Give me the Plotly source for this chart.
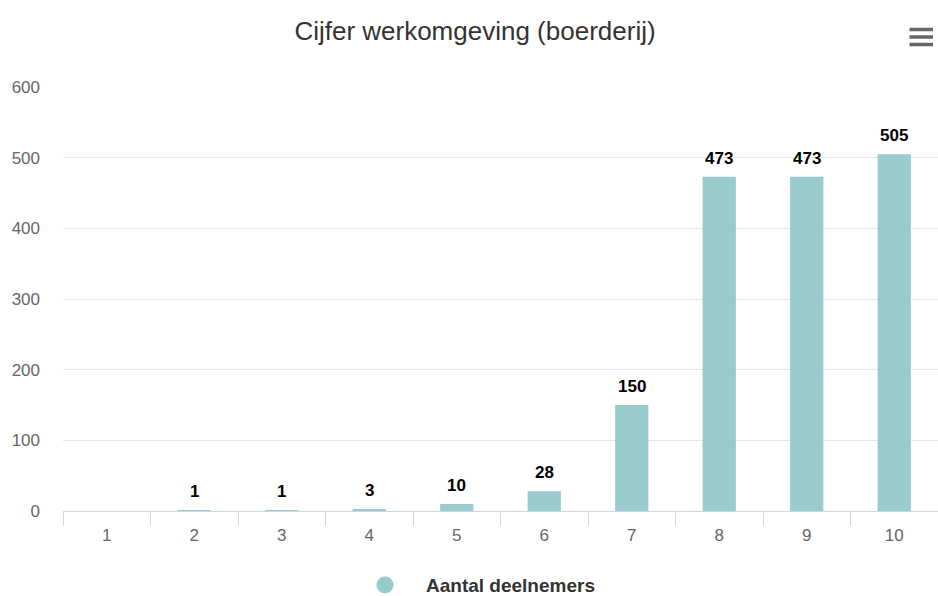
import plotly.graph_objects as go

categories = ["1", "2", "3", "4", "5", "6", "7", "8", "9", "10"]
values = [None, 1, 1, 3, 10, 28, 150, 473, 473, 505]
y_ticks = [0, 100, 200, 300, 400, 500, 600]
series_name = "Aantal deelnemers"
title_text = "Cijfer werkomgeving (boerderij)"

BAR_COLOR = "#99cbcc"
FONT = "Liberation Sans, Arial, Helvetica, sans-serif"

W, H = 938, 596
L, R, T, B = 63, 0, 87, 85

fig = go.Figure()
fig.add_trace(go.Bar(
    x=categories, y=values, name=series_name,
    marker=dict(color=BAR_COLOR, line=dict(width=0)),
    showlegend=False, hoverinfo="x+y",
))

# data labels
for i, v in enumerate(values):
    if v is None:
        continue
    fig.add_annotation(
        x=i, y=v, xref="x", yref="y", text=f"<b>{v}</b>", showarrow=False,
        yanchor="bottom", yshift=7,
        font=dict(family=FONT, size=17, color="#000000"),
    )

pw = W - L - R
ph = H - T - B

def px_x(px):
    return (px - L) / pw

def px_y(py):
    return (H - B - py) / ph

# legend: circle + text
cx, cy, r = 385, 585, 8.5
fig.add_shape(type="circle", xref="paper", yref="paper",
              x0=px_x(cx - r), x1=px_x(cx + r), y0=px_y(cy + r), y1=px_y(cy - r),
              fillcolor=BAR_COLOR, line=dict(width=0))
fig.add_annotation(xref="paper", yref="paper", x=px_x(424), y=px_y(cy),
                   xanchor="left", yanchor="middle", showarrow=False,
                   text=f"<b>{series_name}</b>",
                   font=dict(family=FONT, size=19, color="#333333"))

# hamburger menu icon
for yy in (29.5, 37, 44.5):
    fig.add_shape(type="line", xref="paper", yref="paper",
                  x0=px_x(909.5), x1=px_x(933), y0=px_y(yy), y1=px_y(yy),
                  line=dict(color="#666666", width=3.5))

fig.update_layout(
    width=W, height=H,
    margin=dict(l=L, r=R, t=T, b=B, pad=0),
    paper_bgcolor="white", plot_bgcolor="white",
    bargap=0.62,
    font=dict(family=FONT, color="#666666"),
    title=dict(text=title_text, x=475 / W, xanchor="center",
               y=1 - 31 / H, yanchor="middle", yref="container",
               font=dict(family=FONT, size=26, color="#333333")),
    xaxis=dict(
        type="category", range=[-0.5, 9.5], showgrid=False, showline=True,
        linecolor="#ccd6eb", linewidth=1, ticks="outside",
        tickson="boundaries", ticklen=14, tickcolor="#ccd6eb", tickwidth=1,
        ticklabelstandoff=9,
        tickfont=dict(family=FONT, size=17, color="#666666"),
        fixedrange=True, zeroline=False,
    ),
    yaxis=dict(
        range=[0, 600], tickvals=y_ticks, showgrid=True, gridcolor="#e6e6e6",
        gridwidth=1, zeroline=False, showline=False, ticks="",
        ticklabelstandoff=22,
        tickfont=dict(family=FONT, size=17, color="#666666"),
        fixedrange=True,
    ),
    showlegend=False,
)

fig.write_html(
    "out.html",
    config={"displayModeBar": False},
    post_script="document.body.style.margin='0';document.body.style.overflow='hidden';",
)
